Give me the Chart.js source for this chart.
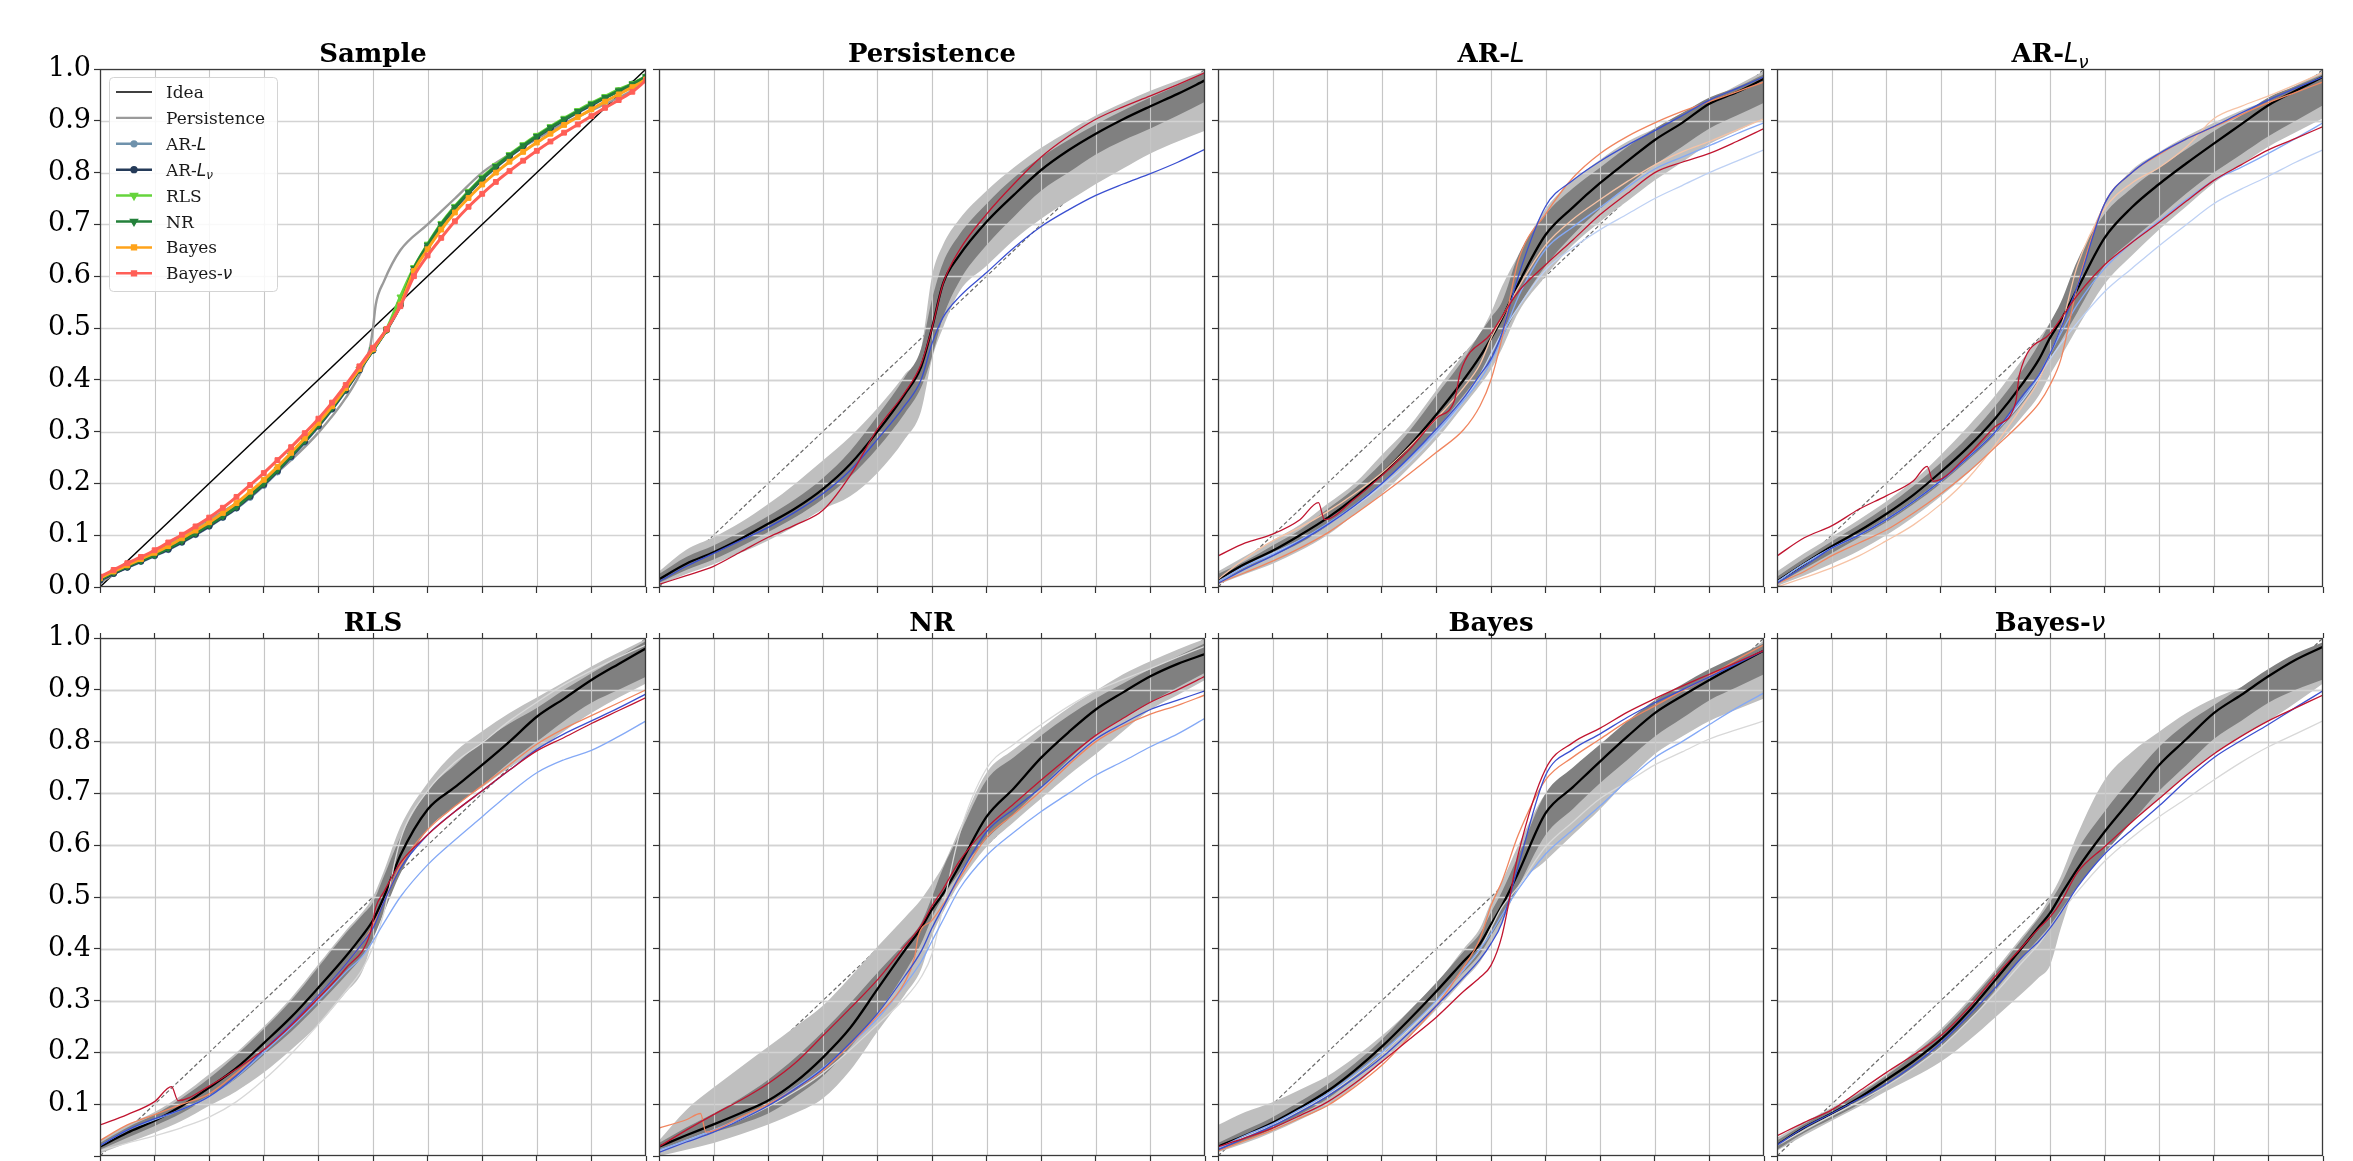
<!DOCTYPE html>
<html>
<head>
<meta charset="utf-8">
<script src="https://cdn.jsdelivr.net/npm/chart.js@4.4.0/dist/chart.umd.min.js"></script>
<style>
  html, body { margin: 0; padding: 0; background: #fff; overflow: hidden; }
  body { width: 2353px; height: 1161px; position: relative; }
  canvas { position: absolute; }
</style>
</head>
<body>
<script>
// ---------- x positions ----------
const GRID = [0, 0.05, 0.1, 0.15, 0.2, 0.25, 0.3, 0.35, 0.4, 0.45, 0.48, 0.5, 0.52, 0.55, 0.6, 0.65, 0.7, 0.75, 0.8, 0.85, 0.9, 0.95, 1.0];
const SAMPLE_X = [0, 0.025, 0.05, 0.075, 0.1, 0.125, 0.15, 0.175, 0.2, 0.225, 0.25, 0.275, 0.3, 0.325, 0.35, 0.375, 0.4, 0.425, 0.45, 0.475, 0.5, 0.525, 0.55, 0.575, 0.6, 0.625, 0.65, 0.675, 0.7, 0.725, 0.75, 0.775, 0.8, 0.825, 0.85, 0.875, 0.9, 0.925, 0.95, 0.975, 1.0];
const Y_TICKS = [0, 0.1, 0.2, 0.3, 0.4, 0.5, 0.6, 0.7, 0.8, 0.9, 1.0];

// ---------- Sample panel ----------
const ideaX = [0, 1];
const ideaY = [0, 1];
const samplePersX = [0, 0.05, 0.1, 0.15, 0.2, 0.25, 0.3, 0.35, 0.4, 0.45, 0.48, 0.495, 0.5, 0.505, 0.52, 0.55, 0.6, 0.65, 0.7, 0.75, 0.8, 0.85, 0.9, 0.95, 0.98, 1.0];
const samplePersY = [0.008, 0.04, 0.068, 0.098, 0.13, 0.162, 0.2, 0.245, 0.298, 0.365, 0.42, 0.465, 0.5, 0.545, 0.59, 0.65, 0.7, 0.75, 0.8, 0.835, 0.865, 0.895, 0.92, 0.945, 0.962, 0.98];
const sampleArL = [0.013, 0.026, 0.038, 0.049, 0.06, 0.072, 0.086, 0.101, 0.117, 0.134, 0.152, 0.173, 0.196, 0.222, 0.25, 0.279, 0.31, 0.343, 0.379, 0.418, 0.457, 0.496, 0.543, 0.612, 0.657, 0.697, 0.731, 0.76, 0.787, 0.81, 0.831, 0.85, 0.868, 0.885, 0.901, 0.916, 0.93, 0.944, 0.957, 0.97, 0.984];
const sampleArLNu = [0.013, 0.026, 0.038, 0.05, 0.061, 0.073, 0.087, 0.102, 0.118, 0.135, 0.153, 0.175, 0.198, 0.224, 0.252, 0.281, 0.311, 0.344, 0.38, 0.419, 0.457, 0.496, 0.544, 0.613, 0.658, 0.698, 0.732, 0.761, 0.788, 0.811, 0.832, 0.851, 0.869, 0.886, 0.902, 0.917, 0.931, 0.945, 0.958, 0.971, 0.985];
const sampleRls = [0.015, 0.029, 0.041, 0.052, 0.063, 0.076, 0.09, 0.105, 0.121, 0.138, 0.156, 0.178, 0.201, 0.227, 0.255, 0.284, 0.314, 0.347, 0.383, 0.421, 0.459, 0.498, 0.56, 0.617, 0.662, 0.702, 0.735, 0.764, 0.791, 0.814, 0.835, 0.854, 0.872, 0.889, 0.905, 0.92, 0.934, 0.947, 0.96, 0.972, 0.986];
const sampleNr = [0.015, 0.028, 0.04, 0.051, 0.062, 0.075, 0.089, 0.104, 0.12, 0.137, 0.155, 0.177, 0.2, 0.226, 0.254, 0.283, 0.313, 0.346, 0.382, 0.42, 0.458, 0.497, 0.545, 0.615, 0.66, 0.7, 0.733, 0.762, 0.789, 0.812, 0.833, 0.852, 0.87, 0.887, 0.903, 0.918, 0.932, 0.945, 0.958, 0.971, 0.985];
const sampleBayes = [0.017, 0.03, 0.042, 0.054, 0.066, 0.079, 0.094, 0.109, 0.125, 0.143, 0.162, 0.184, 0.207, 0.232, 0.259, 0.287, 0.317, 0.349, 0.384, 0.421, 0.459, 0.497, 0.545, 0.61, 0.652, 0.69, 0.723, 0.751, 0.777, 0.8, 0.821, 0.84, 0.858, 0.875, 0.892, 0.907, 0.922, 0.937, 0.951, 0.965, 0.98];
const sampleBayesNu = [0.02, 0.033, 0.046, 0.058, 0.071, 0.086, 0.101, 0.117, 0.134, 0.153, 0.174, 0.197, 0.22, 0.245, 0.27, 0.297, 0.325, 0.356, 0.39, 0.426, 0.462, 0.498, 0.542, 0.6, 0.64, 0.674, 0.706, 0.734, 0.759, 0.782, 0.803, 0.823, 0.842, 0.86, 0.877, 0.893, 0.909, 0.925, 0.94, 0.956, 0.978];

// ---------- Persistence panel ----------
const persMedian = [0.015, 0.045, 0.067, 0.093, 0.122, 0.152, 0.189, 0.237, 0.300, 0.372, 0.425, 0.50, 0.585, 0.64, 0.705, 0.757, 0.805, 0.843, 0.875, 0.903, 0.928, 0.952, 0.978];
const persDarkHi = [0.025, 0.058, 0.08, 0.107, 0.137, 0.17, 0.21, 0.262, 0.33, 0.405, 0.46, 0.555, 0.625, 0.68, 0.74, 0.79, 0.83, 0.863, 0.893, 0.92, 0.945, 0.968, 0.993];
const persDarkLo = [0.008, 0.033, 0.053, 0.078, 0.106, 0.135, 0.17, 0.213, 0.268, 0.335, 0.385, 0.445, 0.52, 0.59, 0.66, 0.715, 0.765, 0.8, 0.835, 0.862, 0.885, 0.91, 0.937];
const persLightHi = [0.03, 0.072, 0.096, 0.125, 0.16, 0.2, 0.244, 0.29, 0.345, 0.41, 0.46, 0.6, 0.66, 0.71, 0.765, 0.81, 0.848, 0.88, 0.91, 0.935, 0.958, 0.978, 0.996];
const persLightLo = [0.003, 0.025, 0.044, 0.066, 0.09, 0.118, 0.15, 0.175, 0.22, 0.285, 0.34, 0.44, 0.5, 0.57, 0.62, 0.67, 0.711, 0.745, 0.778, 0.808, 0.837, 0.86, 0.881];
const persRed = [0.005, 0.022, 0.04, 0.068, 0.096, 0.12, 0.148, 0.215, 0.305, 0.375, 0.43, 0.5, 0.585, 0.65, 0.72, 0.778, 0.83, 0.87, 0.903, 0.927, 0.948, 0.97, 0.993];
const persBlue = [0.01, 0.04, 0.065, 0.09, 0.115, 0.145, 0.18, 0.225, 0.285, 0.35, 0.4, 0.47, 0.52, 0.56, 0.607, 0.655, 0.696, 0.728, 0.756, 0.778, 0.798, 0.82, 0.845];

// ---------- AR-L panel ----------
const arlMedian = [0.015, 0.045, 0.07, 0.1, 0.133, 0.172, 0.218, 0.272, 0.333, 0.4, 0.445, 0.48, 0.518, 0.585, 0.68, 0.733, 0.78, 0.822, 0.863, 0.896, 0.933, 0.955, 0.981];
const arlDarkHi = [0.025, 0.05, 0.08, 0.11, 0.15, 0.19, 0.24, 0.3, 0.37, 0.44, 0.49, 0.52, 0.55, 0.64, 0.72, 0.77, 0.81, 0.85, 0.885, 0.915, 0.945, 0.965, 0.99];
const arlDarkLo = [0.01, 0.035, 0.06, 0.085, 0.118, 0.155, 0.2, 0.25, 0.305, 0.37, 0.41, 0.44, 0.48, 0.54, 0.62, 0.68, 0.73, 0.775, 0.815, 0.85, 0.885, 0.91, 0.935];
const arlLightHi = [0.03, 0.06, 0.09, 0.12, 0.16, 0.2, 0.255, 0.31, 0.38, 0.45, 0.49, 0.53, 0.58, 0.64, 0.73, 0.785, 0.825, 0.86, 0.885, 0.915, 0.94, 0.968, 0.996];
const arlLightLo = [0.005, 0.025, 0.045, 0.07, 0.1, 0.14, 0.18, 0.23, 0.285, 0.35, 0.39, 0.42, 0.46, 0.53, 0.6, 0.66, 0.705, 0.745, 0.785, 0.82, 0.855, 0.88, 0.905];
const arlRedX = [0, 0.05, 0.1, 0.15, 0.184, 0.195, 0.25, 0.3, 0.35, 0.4, 0.433, 0.444, 0.5, 0.55, 0.6, 0.65, 0.7, 0.75, 0.8, 0.85, 0.9, 0.95, 1.0];
const arlRedY = [0.06, 0.085, 0.102, 0.13, 0.163, 0.13, 0.17, 0.215, 0.265, 0.326, 0.36, 0.415, 0.489, 0.57, 0.622, 0.67, 0.719, 0.76, 0.8, 0.82, 0.837, 0.86, 0.885];
const arlBlue = [0.007, 0.035, 0.06, 0.088, 0.12, 0.157, 0.2, 0.25, 0.305, 0.365, 0.41, 0.44, 0.49, 0.6, 0.735, 0.785, 0.822, 0.853, 0.881, 0.91, 0.94, 0.962, 0.985];
const arlCoral = [0.007, 0.028, 0.05, 0.075, 0.104, 0.14, 0.178, 0.218, 0.26, 0.304, 0.35, 0.4, 0.48, 0.63, 0.72, 0.79, 0.837, 0.87, 0.896, 0.918, 0.937, 0.956, 0.975];
const arlPeach = [0.015, 0.055, 0.089, 0.115, 0.145, 0.18, 0.22, 0.27, 0.325, 0.385, 0.43, 0.48, 0.52, 0.578, 0.66, 0.71, 0.748, 0.783, 0.815, 0.84, 0.86, 0.882, 0.904];
const arlLightBlue = [0.01, 0.04, 0.063, 0.09, 0.122, 0.158, 0.2, 0.248, 0.3, 0.36, 0.4, 0.435, 0.48, 0.56, 0.652, 0.695, 0.733, 0.772, 0.807, 0.83, 0.852, 0.875, 0.896];
const arlPaleBlue = [0.01, 0.04, 0.065, 0.09, 0.12, 0.155, 0.195, 0.24, 0.295, 0.36, 0.41, 0.45, 0.49, 0.54, 0.612, 0.655, 0.69, 0.72, 0.75, 0.775, 0.8, 0.822, 0.844];

// ---------- AR-Lν panel ----------
const arlnMedian = [0.011, 0.045, 0.078, 0.108, 0.141, 0.178, 0.222, 0.27, 0.326, 0.393, 0.44, 0.481, 0.515, 0.575, 0.674, 0.733, 0.778, 0.818, 0.856, 0.893, 0.93, 0.958, 0.985];
const arlnDarkHi = [0.02, 0.055, 0.088, 0.12, 0.155, 0.195, 0.24, 0.29, 0.35, 0.42, 0.47, 0.51, 0.55, 0.63, 0.72, 0.77, 0.81, 0.845, 0.88, 0.91, 0.945, 0.967, 0.99];
const arlnDarkLo = [0.005, 0.035, 0.065, 0.095, 0.125, 0.16, 0.2, 0.245, 0.295, 0.355, 0.4, 0.44, 0.475, 0.53, 0.62, 0.67, 0.715, 0.76, 0.8, 0.835, 0.87, 0.9, 0.93];
const arlnLightHi = [0.03, 0.065, 0.097, 0.13, 0.165, 0.205, 0.255, 0.31, 0.37, 0.44, 0.48, 0.51, 0.545, 0.62, 0.74, 0.805, 0.84, 0.87, 0.896, 0.92, 0.94, 0.968, 0.996];
const arlnLightLo = [0.002, 0.022, 0.045, 0.07, 0.1, 0.135, 0.175, 0.22, 0.27, 0.33, 0.37, 0.41, 0.445, 0.5, 0.585, 0.64, 0.69, 0.735, 0.78, 0.815, 0.85, 0.878, 0.905];
const arlnRedX = [0, 0.05, 0.1, 0.15, 0.2, 0.25, 0.275, 0.286, 0.35, 0.4, 0.437, 0.444, 0.5, 0.55, 0.6, 0.65, 0.7, 0.75, 0.8, 0.85, 0.9, 0.95, 1.0];
const arlnRedY = [0.06, 0.095, 0.118, 0.15, 0.176, 0.205, 0.233, 0.204, 0.255, 0.31, 0.356, 0.41, 0.489, 0.563, 0.622, 0.665, 0.704, 0.745, 0.785, 0.815, 0.844, 0.866, 0.889];
const arlnBlue = [0.007, 0.04, 0.075, 0.1, 0.13, 0.165, 0.205, 0.25, 0.3, 0.37, 0.41, 0.45, 0.5, 0.58, 0.74, 0.8, 0.837, 0.865, 0.889, 0.915, 0.94, 0.963, 0.985];
const arlnCoral = [0.007, 0.03, 0.06, 0.085, 0.11, 0.143, 0.18, 0.222, 0.27, 0.32, 0.355, 0.39, 0.44, 0.58, 0.74, 0.8, 0.835, 0.865, 0.888, 0.912, 0.935, 0.955, 0.975];
const arlnPeach = [0.0, 0.018, 0.037, 0.06, 0.089, 0.12, 0.16, 0.21, 0.275, 0.35, 0.4, 0.45, 0.5, 0.62, 0.73, 0.78, 0.81, 0.85, 0.904, 0.928, 0.948, 0.97, 0.993];
const arlnLightBlue = [0.01, 0.045, 0.075, 0.1, 0.13, 0.165, 0.205, 0.25, 0.3, 0.365, 0.41, 0.45, 0.49, 0.545, 0.615, 0.665, 0.707, 0.748, 0.785, 0.81, 0.837, 0.866, 0.896];
const arlnPaleBlue = [0.01, 0.045, 0.075, 0.1, 0.13, 0.165, 0.205, 0.25, 0.3, 0.36, 0.405, 0.44, 0.47, 0.51, 0.57, 0.615, 0.659, 0.7, 0.74, 0.768, 0.793, 0.82, 0.844];

// ---------- RLS panel ----------
const rlsMedian = [0.018, 0.045, 0.068, 0.097, 0.132, 0.17, 0.218, 0.268, 0.325, 0.385, 0.425, 0.455, 0.5, 0.58, 0.669, 0.712, 0.755, 0.8, 0.848, 0.883, 0.919, 0.95, 0.98];
const rlsDarkHi = [0.025, 0.055, 0.08, 0.112, 0.15, 0.195, 0.245, 0.3, 0.365, 0.43, 0.465, 0.49, 0.54, 0.615, 0.705, 0.755, 0.8, 0.835, 0.865, 0.9, 0.932, 0.963, 0.994];
const rlsDarkLo = [0.012, 0.035, 0.058, 0.083, 0.115, 0.15, 0.195, 0.24, 0.292, 0.348, 0.385, 0.42, 0.47, 0.545, 0.63, 0.675, 0.715, 0.76, 0.8, 0.84, 0.875, 0.9, 0.925];
const rlsLightHi = [0.03, 0.06, 0.085, 0.118, 0.158, 0.2, 0.25, 0.305, 0.37, 0.435, 0.47, 0.5, 0.55, 0.635, 0.72, 0.78, 0.82, 0.855, 0.885, 0.915, 0.945, 0.972, 0.998];
const rlsLightLo = [0.005, 0.025, 0.045, 0.068, 0.097, 0.125, 0.161, 0.205, 0.254, 0.315, 0.355, 0.42, 0.49, 0.555, 0.64, 0.68, 0.712, 0.75, 0.783, 0.82, 0.855, 0.885, 0.912];
const rlsRedX = [0, 0.05, 0.1, 0.131, 0.143, 0.2, 0.25, 0.3, 0.35, 0.4, 0.45, 0.495, 0.505, 0.52, 0.55, 0.6, 0.65, 0.7, 0.75, 0.8, 0.85, 0.9, 0.95, 1.0];
const rlsRedY = [0.06, 0.08, 0.105, 0.134, 0.107, 0.135, 0.168, 0.205, 0.252, 0.305, 0.362, 0.43, 0.48, 0.51, 0.566, 0.62, 0.665, 0.705, 0.745, 0.782, 0.808, 0.835, 0.86, 0.885];
const rlsBlue = [0.02, 0.05, 0.072, 0.09, 0.115, 0.155, 0.205, 0.255, 0.31, 0.37, 0.41, 0.44, 0.49, 0.555, 0.62, 0.665, 0.705, 0.745, 0.785, 0.815, 0.84, 0.865, 0.892];
const rlsCoral = [0.03, 0.06, 0.08, 0.1, 0.12, 0.16, 0.205, 0.255, 0.31, 0.37, 0.41, 0.445, 0.49, 0.56, 0.63, 0.675, 0.715, 0.755, 0.795, 0.825, 0.85, 0.875, 0.9];
const rlsLightBlue = [0.02, 0.05, 0.07, 0.09, 0.115, 0.153, 0.2, 0.248, 0.3, 0.355, 0.385, 0.415, 0.45, 0.5, 0.562, 0.61, 0.655, 0.7, 0.74, 0.765, 0.783, 0.81, 0.84];
const rlsLightGray = [0.01, 0.025, 0.039, 0.055, 0.075, 0.105, 0.147, 0.197, 0.254, 0.318, 0.36, 0.404, 0.47, 0.61, 0.705, 0.76, 0.798, 0.84, 0.876, 0.91, 0.937, 0.963, 0.987];

// ---------- NR panel ----------
const nrMedian = [0.018, 0.04, 0.061, 0.083, 0.107, 0.143, 0.19, 0.247, 0.322, 0.397, 0.44, 0.476, 0.506, 0.56, 0.655, 0.71, 0.769, 0.818, 0.862, 0.895, 0.926, 0.95, 0.969];
const nrDarkHi = [0.025, 0.055, 0.082, 0.112, 0.147, 0.19, 0.24, 0.295, 0.354, 0.411, 0.45, 0.5, 0.555, 0.62, 0.726, 0.77, 0.812, 0.85, 0.883, 0.912, 0.94, 0.965, 0.99];
const nrDarkLo = [0.01, 0.03, 0.046, 0.062, 0.082, 0.115, 0.154, 0.21, 0.275, 0.354, 0.41, 0.46, 0.5, 0.547, 0.612, 0.66, 0.712, 0.765, 0.812, 0.845, 0.876, 0.905, 0.933];
const nrLightHi = [0.03, 0.089, 0.132, 0.172, 0.211, 0.25, 0.29, 0.345, 0.404, 0.46, 0.495, 0.526, 0.56, 0.63, 0.74, 0.785, 0.826, 0.865, 0.898, 0.93, 0.955, 0.978, 0.998];
const nrLightLo = [0.0, 0.012, 0.025, 0.042, 0.061, 0.083, 0.111, 0.165, 0.24, 0.311, 0.36, 0.425, 0.47, 0.526, 0.597, 0.645, 0.69, 0.735, 0.776, 0.82, 0.862, 0.89, 0.919];
const nrRed = [0.018, 0.05, 0.08, 0.108, 0.14, 0.18, 0.232, 0.285, 0.34, 0.405, 0.445, 0.483, 0.515, 0.569, 0.633, 0.68, 0.726, 0.77, 0.812, 0.845, 0.876, 0.9, 0.926];
const nrBlue = [0.007, 0.027, 0.046, 0.07, 0.097, 0.13, 0.168, 0.218, 0.275, 0.347, 0.395, 0.44, 0.48, 0.54, 0.626, 0.67, 0.712, 0.76, 0.805, 0.835, 0.862, 0.88, 0.898];
const nrCoralX = [0, 0.05, 0.076, 0.086, 0.15, 0.2, 0.25, 0.3, 0.35, 0.4, 0.45, 0.468, 0.475, 0.5, 0.55, 0.6, 0.65, 0.7, 0.75, 0.8, 0.85, 0.9, 0.95, 1.0];
const nrCoralY = [0.054, 0.07, 0.082, 0.046, 0.075, 0.1, 0.13, 0.165, 0.215, 0.27, 0.335, 0.383, 0.425, 0.455, 0.535, 0.615, 0.66, 0.705, 0.755, 0.8, 0.83, 0.853, 0.87, 0.89];
const nrLightBlue = [0.011, 0.03, 0.05, 0.073, 0.1, 0.132, 0.17, 0.215, 0.265, 0.33, 0.375, 0.415, 0.455, 0.515, 0.58, 0.625, 0.665, 0.7, 0.735, 0.762, 0.79, 0.815, 0.845];
const nrLightGray = [0.01, 0.03, 0.05, 0.07, 0.095, 0.125, 0.16, 0.205, 0.254, 0.304, 0.345, 0.39, 0.48, 0.62, 0.748, 0.795, 0.833, 0.868, 0.898, 0.92, 0.941, 0.963, 0.984];

// ---------- Bayes panel ----------
const bayesMedian = [0.018, 0.04, 0.064, 0.093, 0.125, 0.165, 0.211, 0.263, 0.318, 0.376, 0.41, 0.447, 0.483, 0.547, 0.662, 0.712, 0.762, 0.81, 0.855, 0.888, 0.919, 0.948, 0.976];
const bayesDarkHi = [0.025, 0.05, 0.075, 0.105, 0.138, 0.178, 0.225, 0.28, 0.335, 0.395, 0.43, 0.47, 0.51, 0.58, 0.7, 0.75, 0.795, 0.84, 0.88, 0.91, 0.94, 0.965, 0.99];
const bayesDarkLo = [0.01, 0.03, 0.052, 0.08, 0.11, 0.15, 0.195, 0.245, 0.3, 0.355, 0.39, 0.425, 0.46, 0.52, 0.62, 0.67, 0.72, 0.765, 0.81, 0.845, 0.88, 0.905, 0.93];
const bayesLightHi = [0.06, 0.085, 0.104, 0.128, 0.154, 0.19, 0.232, 0.28, 0.333, 0.4, 0.44, 0.49, 0.53, 0.6, 0.7, 0.745, 0.79, 0.83, 0.865, 0.895, 0.925, 0.958, 0.995];
const bayesLightLo = [0.007, 0.025, 0.046, 0.07, 0.097, 0.135, 0.182, 0.23, 0.283, 0.34, 0.375, 0.41, 0.45, 0.52, 0.57, 0.62, 0.67, 0.725, 0.776, 0.81, 0.84, 0.862, 0.883];
const bayesRed = [0.018, 0.035, 0.054, 0.078, 0.104, 0.14, 0.182, 0.225, 0.268, 0.318, 0.345, 0.368, 0.425, 0.583, 0.747, 0.798, 0.826, 0.857, 0.883, 0.907, 0.93, 0.953, 0.976];
const bayesBlue = [0.012, 0.035, 0.058, 0.085, 0.115, 0.15, 0.19, 0.238, 0.29, 0.345, 0.38, 0.41, 0.45, 0.56, 0.735, 0.785, 0.815, 0.847, 0.875, 0.9, 0.925, 0.95, 0.976];
const bayesCoral = [0.01, 0.03, 0.05, 0.073, 0.097, 0.133, 0.175, 0.23, 0.29, 0.365, 0.42, 0.483, 0.53, 0.62, 0.726, 0.77, 0.805, 0.84, 0.869, 0.898, 0.926, 0.958, 0.987];
const bayesLightBlue = [0.015, 0.04, 0.062, 0.09, 0.12, 0.158, 0.2, 0.248, 0.3, 0.36, 0.4, 0.43, 0.465, 0.515, 0.583, 0.63, 0.676, 0.725, 0.769, 0.8, 0.833, 0.865, 0.894];
const bayesLightGray = [0.015, 0.038, 0.06, 0.088, 0.118, 0.155, 0.198, 0.245, 0.298, 0.36, 0.4, 0.44, 0.48, 0.52, 0.597, 0.645, 0.69, 0.722, 0.755, 0.78, 0.805, 0.823, 0.84];

// ---------- Bayes-ν panel ----------
const bnuMedian = [0.021, 0.055, 0.082, 0.112, 0.147, 0.183, 0.225, 0.278, 0.34, 0.404, 0.443, 0.469, 0.504, 0.554, 0.626, 0.69, 0.755, 0.805, 0.855, 0.89, 0.926, 0.958, 0.983];
const bnuDarkHi = [0.03, 0.062, 0.09, 0.12, 0.155, 0.195, 0.24, 0.295, 0.355, 0.42, 0.46, 0.49, 0.525, 0.59, 0.665, 0.73, 0.79, 0.835, 0.87, 0.905, 0.94, 0.97, 0.992];
const bnuDarkLo = [0.012, 0.045, 0.072, 0.1, 0.135, 0.17, 0.21, 0.26, 0.32, 0.385, 0.42, 0.445, 0.475, 0.52, 0.585, 0.645, 0.705, 0.755, 0.805, 0.84, 0.875, 0.9, 0.92];
const bnuLightHi = [0.035, 0.065, 0.093, 0.123, 0.158, 0.2, 0.245, 0.3, 0.36, 0.425, 0.465, 0.5, 0.54, 0.62, 0.726, 0.78, 0.819, 0.855, 0.883, 0.905, 0.926, 0.96, 0.992];
const bnuLightLo = [0.01, 0.04, 0.068, 0.095, 0.125, 0.152, 0.182, 0.222, 0.268, 0.315, 0.345, 0.368, 0.44, 0.53, 0.597, 0.645, 0.69, 0.735, 0.776, 0.81, 0.84, 0.875, 0.912];
const bnuRed = [0.039, 0.065, 0.089, 0.125, 0.161, 0.195, 0.232, 0.285, 0.347, 0.405, 0.44, 0.461, 0.49, 0.547, 0.597, 0.645, 0.69, 0.735, 0.776, 0.81, 0.84, 0.865, 0.89];
const bnuBlue = [0.021, 0.055, 0.082, 0.11, 0.139, 0.175, 0.218, 0.27, 0.325, 0.385, 0.415, 0.44, 0.47, 0.519, 0.583, 0.63, 0.676, 0.725, 0.769, 0.802, 0.833, 0.866, 0.898];
const bnuLightGray = [0.02, 0.05, 0.078, 0.105, 0.135, 0.17, 0.21, 0.26, 0.315, 0.375, 0.41, 0.44, 0.47, 0.51, 0.569, 0.615, 0.655, 0.69, 0.726, 0.76, 0.79, 0.815, 0.84];

// ---------- styling ----------
const C = {
  red: '#c0142f', blue: '#3a4fd0', coral: '#f0855f', peach: '#f6c3a6',
  lightBlue: '#84a9f6', paleBlue: '#bed1f4', lightGray: '#d8d8d8',
  bandLight: '#bfbfbf', bandDark: '#808080', dashed: '#6a6a6a'
};
const COL_LEFT = [100, 659, 1218, 1777];
const ROW_TOP = [69, 638];
const PLOT_W = 546, PLOT_H = 518;
const PAD_L = 100, PAD_T = 69, PAD_R = 10, PAD_B = 30;

// rich text: [text, kind] with kind n = normal, i = italic, s = italic subscript
function drawRich(ctx, segs, x, y, size, bold, align) {
  const parts = segs.map(([t, k]) => {
    let font, dy = 0;
    if (k === 'i') font = `italic ${size}px "DejaVu Sans"`;
    else if (k === 's') { font = `italic ${Math.round(size * 0.7)}px "DejaVu Sans"`; dy = size * 0.22; }
    else font = `${bold ? 'bold ' : ''}${size}px "DejaVu Serif"`;
    ctx.font = font;
    return { t, font, dy, w: ctx.measureText(t).width };
  });
  const total = parts.reduce((a, p) => a + p.w, 0);
  let cx = align === 'center' ? x - total / 2 : x;
  for (const p of parts) { ctx.font = p.font; ctx.fillText(p.t, cx, y + p.dy); cx += p.w; }
}

const LABEL_SEGS = {
  'Idea': [['Idea', 'n']],
  'Persistence': [['Persistence', 'n']],
  'AR-L': [['AR-', 'n'], ['L', 'i']],
  'AR-Lν': [['AR-', 'n'], ['L', 'i'], ['ν', 's']],
  'RLS': [['RLS', 'n']],
  'NR': [['NR', 'n']],
  'Bayes': [['Bayes', 'n']],
  'Bayes-ν': [['Bayes-', 'n'], ['ν', 'i']],
  'Sample': [['Sample', 'n']]
};

function drawGrid(chart) {
  const { ctx, chartArea: a, scales } = chart;
  ctx.save();
  ctx.beginPath(); ctx.rect(a.left, a.top, a.width, a.height); ctx.clip();
  ctx.strokeStyle = '#d3d3d3'; ctx.lineWidth = 1.6;
  for (const v of Y_TICKS) {
    const y = Math.round(scales.y.getPixelForValue(v)) + 0.5;
    ctx.beginPath(); ctx.moveTo(a.left, y); ctx.lineTo(a.right, y); ctx.stroke();
  }
  ctx.strokeStyle = '#c6c6c6'; ctx.lineWidth = 1.1;
  for (const v of Y_TICKS) {
    const x = Math.round(scales.x.getPixelForValue(v)) + 0.5;
    ctx.beginPath(); ctx.moveTo(x, a.top); ctx.lineTo(x, a.bottom); ctx.stroke();
  }
  ctx.restore();
}

const panelDecor = {
  id: 'panelDecor',
  beforeDatasetsDraw(chart) { drawGrid(chart); },
  afterDatasetDraw(chart, args, opts) { if (args.index === opts.gridAfter) drawGrid(chart); },
  afterDatasetsDraw(chart) {
    const { ctx, chartArea: a } = chart;
    ctx.save();
    ctx.strokeStyle = '#3a3a3a'; ctx.lineWidth = 1.3;
    ctx.strokeRect(a.left + 0.5, a.top + 0.5, a.width - 1, a.height - 1);
    ctx.restore();
  },
  afterDraw(chart, args, opts) {
    const { ctx, chartArea: a } = chart;
    ctx.save();
    ctx.fillStyle = '#000'; ctx.textBaseline = 'alphabetic';
    drawRich(ctx, LABEL_SEGS[opts.title], (a.left + a.right) / 2, a.top - 7, 26, true, 'center');
    if (opts.legend) {
      const bx = a.left + 9, by = a.top + 8, bw = 168, bh = 214;
      ctx.fillStyle = 'rgba(255,255,255,0.85)';
      ctx.strokeStyle = '#d4d4d4'; ctx.lineWidth = 1;
      ctx.beginPath(); ctx.roundRect(bx + 0.5, by + 0.5, bw, bh, 4); ctx.fill(); ctx.stroke();
      chart.data.datasets.forEach((ds, i) => {
        const cy = a.top + 23 + 25.9 * i;
        ctx.strokeStyle = ds.borderColor; ctx.lineWidth = Math.min(ds.borderWidth, 2.5);
        ctx.beginPath(); ctx.moveTo(a.left + 16, cy); ctx.lineTo(a.left + 52, cy); ctx.stroke();
        if (ds.pointRadius > 0) {
          ctx.fillStyle = ds.borderColor; ctx.strokeStyle = ds.borderColor;
          Chart.helpers.drawPoint(ctx, { pointStyle: ds.pointStyle, rotation: ds.pointRotation || 0, radius: ds.pointRadius * 0.8, borderWidth: 1 }, a.left + 34, cy);
        }
        ctx.fillStyle = '#1a1a1a';
        drawRich(ctx, LABEL_SEGS[ds.label], a.left + 66, cy + 6, 17, false, 'left');
      });
    }
    ctx.restore();
  }
};

const pts = (xs, ys) => xs.map((x, i) => ({ x, y: ys[i] }));

function lineDs(label, xs, ys, color, width, order, extra) {
  return Object.assign({
    label, data: pts(xs, ys), borderColor: color, backgroundColor: color,
    borderWidth: width, pointRadius: 0, fill: false, order,
    cubicInterpolationMode: 'monotone'
  }, extra || {});
}

function bandPanel(p) {
  const ds = [
    lineDs('diag', [0, 1], [0, 1], C.dashed, 1.2, 100, { borderDash: [4, 2.5] }),
    lineDs('lightLo', GRID, p.lightLo, 'transparent', 0, 90),
    lineDs('lightHi', GRID, p.lightHi, 'transparent', 0, 89, { fill: 1, backgroundColor: C.bandLight }),
    lineDs('darkLo', GRID, p.darkLo, 'transparent', 0, 80),
    lineDs('darkHi', GRID, p.darkHi, 'transparent', 0, 79, { fill: 3, backgroundColor: C.bandDark })
  ];
  p.lines.forEach((l, i) => ds.push(lineDs('line' + i, l.x || GRID, l.y, l.color, 1.3, 40 - i)));
  ds.push(lineDs('median', GRID, p.median, '#000', 2.3, 50));
  return { datasets: ds, gridAfter: 4 };
}

function markerDs(label, ys, color, style, radius, rotation, order) {
  return lineDs(label, SAMPLE_X, ys, color, 3, order, {
    pointRadius: radius, pointStyle: style, pointRotation: rotation,
    pointBackgroundColor: color, pointBorderColor: color, pointBorderWidth: 1
  });
}

function samplePanel() {
  const ds = [
    lineDs('Idea', ideaX, ideaY, '#000000', 1.4, 30),
    lineDs('Persistence', samplePersX, samplePersY, '#9a9a9a', 2.4, 29),
    markerDs('AR-L', sampleArL, '#6f92ac', 'circle', 3, 0, 28),
    markerDs('AR-Lν', sampleArLNu, '#253b59', 'circle', 3, 0, 27),
    markerDs('RLS', sampleRls, '#66d43c', 'triangle', 3.8, 180, 26),
    markerDs('NR', sampleNr, '#23803a', 'triangle', 3.8, 180, 25),
    markerDs('Bayes', sampleBayes, '#ffa31a', 'rect', 3.4, 0, 24),
    markerDs('Bayes-ν', sampleBayesNu, '#ff5f57', 'rect', 3.4, 0, 23)
  ];
  return { datasets: ds, gridAfter: -1, legend: true };
}

const PANELS = [
  { title: 'Sample', build: samplePanel },
  { title: 'Persistence', build: () => bandPanel({
      median: persMedian, darkLo: persDarkLo, darkHi: persDarkHi, lightLo: persLightLo, lightHi: persLightHi,
      lines: [{ y: persBlue, color: C.blue }, { y: persRed, color: C.red }] }) },
  { title: 'AR-L', build: () => bandPanel({
      median: arlMedian, darkLo: arlDarkLo, darkHi: arlDarkHi, lightLo: arlLightLo, lightHi: arlLightHi,
      lines: [{ y: arlPaleBlue, color: C.paleBlue }, { y: arlPeach, color: C.peach }, { y: arlLightBlue, color: C.lightBlue },
              { y: arlCoral, color: C.coral }, { y: arlBlue, color: C.blue }, { x: arlRedX, y: arlRedY, color: C.red }] }) },
  { title: 'AR-Lν', build: () => bandPanel({
      median: arlnMedian, darkLo: arlnDarkLo, darkHi: arlnDarkHi, lightLo: arlnLightLo, lightHi: arlnLightHi,
      lines: [{ y: arlnPaleBlue, color: C.paleBlue }, { y: arlnPeach, color: C.peach }, { y: arlnLightBlue, color: C.lightBlue },
              { y: arlnCoral, color: C.coral }, { y: arlnBlue, color: C.blue }, { x: arlnRedX, y: arlnRedY, color: C.red }] }) },
  { title: 'RLS', build: () => bandPanel({
      median: rlsMedian, darkLo: rlsDarkLo, darkHi: rlsDarkHi, lightLo: rlsLightLo, lightHi: rlsLightHi,
      lines: [{ y: rlsLightGray, color: C.lightGray }, { y: rlsLightBlue, color: C.lightBlue }, { y: rlsCoral, color: C.coral },
              { y: rlsBlue, color: C.blue }, { x: rlsRedX, y: rlsRedY, color: C.red }] }) },
  { title: 'NR', build: () => bandPanel({
      median: nrMedian, darkLo: nrDarkLo, darkHi: nrDarkHi, lightLo: nrLightLo, lightHi: nrLightHi,
      lines: [{ y: nrLightGray, color: C.lightGray }, { y: nrLightBlue, color: C.lightBlue }, { x: nrCoralX, y: nrCoralY, color: C.coral },
              { y: nrBlue, color: C.blue }, { y: nrRed, color: C.red }] }) },
  { title: 'Bayes', build: () => bandPanel({
      median: bayesMedian, darkLo: bayesDarkLo, darkHi: bayesDarkHi, lightLo: bayesLightLo, lightHi: bayesLightHi,
      lines: [{ y: bayesLightGray, color: C.lightGray }, { y: bayesLightBlue, color: C.lightBlue }, { y: bayesCoral, color: C.coral },
              { y: bayesBlue, color: C.blue }, { y: bayesRed, color: C.red }] }) },
  { title: 'Bayes-ν', build: () => bandPanel({
      median: bnuMedian, darkLo: bnuDarkLo, darkHi: bnuDarkHi, lightLo: bnuLightLo, lightHi: bnuLightHi,
      lines: [{ y: bnuLightGray, color: C.lightGray }, { y: bnuBlue, color: C.blue }, { y: bnuRed, color: C.red }] }) }
];

PANELS.forEach((panel, p) => {
  const row = Math.floor(p / 4), col = p % 4;
  const built = panel.build();
  const canvas = document.createElement('canvas');
  canvas.width = PAD_L + PLOT_W + PAD_R;
  canvas.height = PAD_T + PLOT_H + PAD_B;
  canvas.style.left = (COL_LEFT[col] - PAD_L) + 'px';
  canvas.style.top = (ROW_TOP[row] - PAD_T) + 'px';
  document.body.appendChild(canvas);

  const tickGrid = { drawOnChartArea: false, drawTicks: true, tickLength: 6, tickColor: '#333', tickWidth: 1.2 };
  const scales = {
    x: {
      type: 'linear', min: 0, max: 1,
      ticks: { display: false, stepSize: 0.1 },
      grid: tickGrid, border: { display: false },
      afterFit(s) { s.height = 10; s.paddingLeft = 0; s.paddingRight = 0; }
    },
    y: {
      type: 'linear', min: 0, max: 1,
      ticks: {
        display: col === 0, stepSize: 0.1, padding: 3, color: '#000',
        font: { family: 'DejaVu Serif', size: 27 },
        callback: v => (row === 1 && Math.abs(v) < 1e-9) ? '' : Number(v).toFixed(1)
      },
      grid: tickGrid, border: { display: false },
      afterFit(s) { s.width = PAD_L; s.paddingTop = 0; s.paddingBottom = 0; }
    }
  };
  if (row === 1) {
    scales.x2 = {
      type: 'linear', position: 'top', min: 0, max: 1,
      ticks: { display: false, stepSize: 0.1 },
      grid: { drawOnChartArea: false, drawTicks: true, tickLength: 5, tickColor: '#333', tickWidth: 1.2 },
      border: { display: false },
      afterFit(s) { s.height = 0; s.paddingLeft = 0; s.paddingRight = 0; }
    };
  }

  new Chart(canvas, {
    type: 'line',
    data: { datasets: built.datasets },
    options: {
      responsive: false, animation: false, devicePixelRatio: 1,
      layout: { padding: { left: 0, top: PAD_T, right: PAD_R, bottom: PAD_B - 10 } },
      plugins: {
        legend: { display: false }, tooltip: { enabled: false },
        panelDecor: { title: panel.title, legend: !!built.legend, gridAfter: built.gridAfter }
      },
      scales
    },
    plugins: [panelDecor]
  });
});
</script>
</body>
</html>
